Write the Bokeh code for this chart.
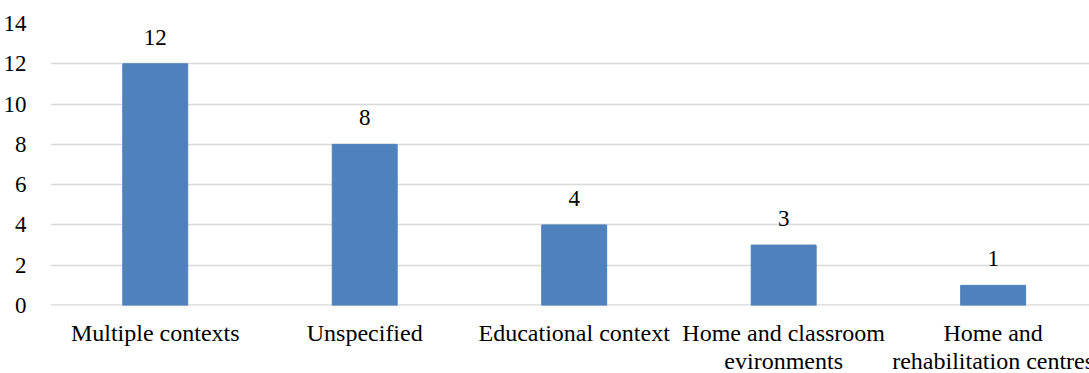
from bokeh.plotting import figure
from bokeh.layouts import column
from bokeh.models import ColumnDataSource, FixedTicker, Range1d, LabelSet, Span
from bokeh.core.properties import value
from bokeh.embed import file_html
from bokeh.resources import INLINE

# Study settings and number of studies in each
categories = [
    "Multiple contexts",
    "Unspecified",
    "Educational context",
    "Home and classroom\nevironments",
    "Home and\nrehabilitation centres",
]
counts = [12, 8, 4, 3, 1]
y_ticks = [0, 2, 4, 6, 8, 10, 12, 14]

FONT = "Liberation Serif"
BAR_COLOR = "#4F81BD"
GRID_COLOR = "#D9D9D9"
WIDTH = 1089
TOP_H = 318
STRIP_H = 373 - TOP_H

positions = list(range(len(categories)))
source = ColumnDataSource(dict(
    x=positions,
    top=counts,
    label=[str(c) for c in counts],
))
x_range = Range1d(-0.5, 4.46)

# --- bar panel ---
p = figure(
    width=WIDTH, height=TOP_H,
    output_backend="svg", toolbar_location=None,
    x_range=x_range, y_range=Range1d(0, 14),
    x_axis_type=None,
    min_border_left=50, min_border_right=0,
    min_border_top=23, min_border_bottom=13,
)
p.outline_line_color = None
p.background_fill_color = "white"
p.border_fill_color = "white"

p.vbar(x="x", top="top", width=0.31, bottom=0, source=source,
       fill_color=BAR_COLOR, line_color=BAR_COLOR)

# value above each bar
labels = LabelSet(x="x", y="top", text="label", source=source,
                  text_align="center", text_baseline="bottom",
                  y_offset=19, text_font=FONT, text_font_size="23px",
                  text_color="#000000")
p.add_layout(labels)

# baseline at zero
p.add_layout(Span(location=0, dimension="width", line_color=GRID_COLOR,
                  line_width=2.5, level="underlay"))

p.yaxis.ticker = FixedTicker(ticks=y_ticks)
p.yaxis.axis_line_color = None
p.yaxis.major_tick_line_color = None
p.yaxis.minor_tick_line_color = None
p.yaxis.major_label_text_font = FONT
p.yaxis.major_label_text_font_size = "23px"
p.yaxis.major_label_text_color = "#000000"
p.yaxis.major_label_standoff = 18

p.ygrid.ticker = FixedTicker(ticks=y_ticks)
p.ygrid.grid_line_color = GRID_COLOR
p.ygrid.grid_line_width = 1.5

# --- category names strip, sharing the bars' x range ---
q = figure(
    width=WIDTH, height=STRIP_H,
    output_backend="svg", toolbar_location=None,
    x_range=x_range, y_range=Range1d(STRIP_H, 0),
    x_axis_type=None, y_axis_type=None,
    min_border_left=50, min_border_right=0,
    min_border_top=0, min_border_bottom=0,
)
q.outline_line_color = None
q.xgrid.visible = False
q.ygrid.visible = False
q.background_fill_color = "white"
q.border_fill_color = "white"

cat_source = ColumnDataSource(dict(x=positions, y=[1] * len(positions), name=categories))
q.text(x="x", y="y", text="name", source=cat_source,
       text_align="center", text_baseline="top",
       text_font=value(FONT), text_font_size="24px",
       text_line_height=1.1, text_color="#000000")

layout = column(p, q, spacing=0)
open("out.html", "w").write(file_html(layout, INLINE))
